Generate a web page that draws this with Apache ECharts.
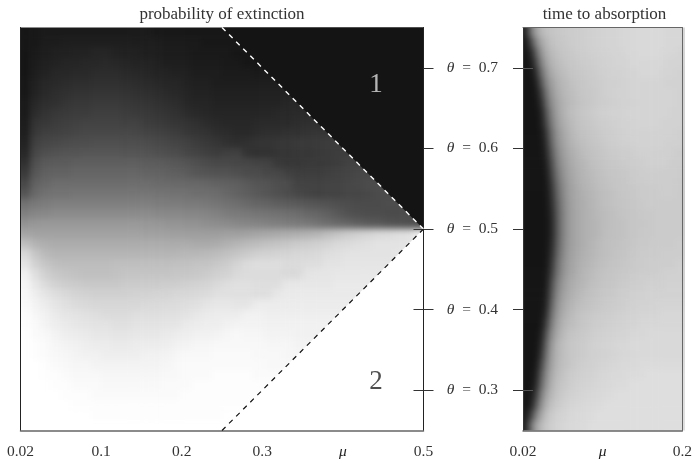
<!DOCTYPE html>
<html><head><meta charset="utf-8">
<style>html,body{margin:0;padding:0;background:#fff}#c{width:695px;height:463px}</style>
<script src="https://cdn.jsdelivr.net/npm/echarts@6/dist/echarts.min.js"></script></head>
<body><div id="c"></div>
<script>
// probability of extinction, percent, rows from theta=0.75 down to 0.25; each row stops at the dashed boundary
const extinctionUpper = [
[99,98,97,97,97,97,97,97,97,97,97,97,97,98,98,98,98,98,98,98],
[99,98,96,96,95,95,95,95,95,95,95,96,96,96,97,97,97,97,98,98,98],
[99,97,95,94,94,93,93,92,92,93,94,94,95,95,96,96,96,97,97,97,97,98],
[99,96,94,93,92,92,91,91,90,91,92,93,93,94,95,95,95,96,96,96,97,97,98],
[99,95,93,91,91,90,90,89,89,89,90,91,92,93,93,94,94,95,95,95,96,96,96,97],
[98,94,91,90,89,88,88,87,87,87,88,89,90,91,92,92,93,94,94,95,95,95,95,95,95],
[98,93,90,88,87,86,86,85,85,85,86,87,88,89,90,91,92,93,93,94,94,94,94,94,94,94],
[97,91,88,87,85,84,84,83,83,83,84,85,86,87,88,89,91,92,92,93,93,93,93,93,93,93,92],
[97,89,86,84,83,82,82,81,81,81,82,83,84,85,86,87,89,90,91,92,92,92,92,92,92,91,91,90],
[96,86,84,82,81,80,79,79,79,79,80,80,82,83,84,85,86,87,89,90,91,91,91,90,90,90,90,89,88],
[95,84,81,80,79,78,77,77,77,77,77,78,79,80,81,82,84,85,86,88,89,90,90,89,88,88,87,87,86,85],
[94,81,78,77,76,75,75,74,74,74,75,75,76,77,78,79,80,82,84,85,87,88,87,86,86,85,85,84,84,83,82],
[92,78,74,73,72,72,71,71,71,71,72,72,73,74,75,76,78,79,81,82,81,80,86,87,87,86,86,85,85,84,83,82],
[88,74,70,69,69,68,68,68,68,68,68,68,69,69,70,71,72,74,76,77,77,78,78,79,80,84,85,85,84,84,83,82,80],
[84,71,67,66,66,65,65,65,65,65,65,65,66,66,67,68,69,71,72,73,73,74,76,76,78,78,81,82,82,82,81,80,79,78],
[78,67,64,62,62,62,62,62,62,62,62,62,62,63,63,64,64,64,65,66,67,68,70,72,73,75,76,80,80,80,79,79,78,77,76],
[72,63,60,59,59,58,58,58,58,58,58,58,58,59,59,60,60,61,61,62,64,66,68,70,72,74,76,78,79,80,79,79,78,78,77,76],
[60,57,55,54,54,54,54,54,54,54,54,54,54,55,55,55,56,56,57,58,60,61,63,65,66,68,69,70,71,72,73,74,75,76,76,76,75],
[54,51,50,49,49,49,49,49,49,49,49,49,49,50,50,50,51,51,52,53,55,56,57,58,59,60,61,62,64,65,67,70,73,74,75,75,76,76],
[46,44,43,43,43,43,43,43,43,43,43,43,44,44,45,45,46,46,47,48,49,50,51,52,53,54,55,56,57,59,61,63,65,67,69,70,72,73,74,76]
];
const extinctionLower = [
[38,39,39,39,39,39,39,39,39,39,39,39,40,40,40,41,41,41,41,41,40,40,39,38,37,36,35,34,33,31,28,25,22,20,18,16,15,14,13,7],
[27,32,34,35,35,35,35,35,35,35,35,35,35,35,35,35,35,36,36,35,33,31,29,28,26,25,24,22,21,20,18,16,15,14,13,12,12,12,11],
[16,24,29,31,31,31,31,31,31,31,31,31,31,31,31,31,30,30,29,28,26,24,22,20,19,18,18,17,17,16,14,13,12,12,12,12,12,11],
[11,19,24,27,28,28,28,28,28,27,27,27,27,27,27,26,26,25,25,23,21,18,15,14,14,14,15,15,14,14,12,12,11,11,11,11,11],
[6,14,20,23,25,26,27,27,27,26,25,25,25,25,25,24,24,23,22,20,19,16,15,15,15,15,16,16,12,11,11,10,10,10,10,10],
[4,10,15,19,21,22,23,23,23,23,22,22,22,22,21,21,20,19,18,16,14,13,13,14,14,14,10,10,10,10,10,9,9,9,9],
[3,7,11,14,16,18,19,20,20,20,20,19,19,18,18,17,17,16,15,13,13,13,13,14,14,10,9,9,9,9,9,9,9,9],
[2,5,8,11,13,15,16,17,17,17,17,17,16,16,15,15,14,13,11,10,10,11,11,8,8,8,8,8,8,8,8,8,8],
[1,4,6,9,11,12,13,14,15,15,15,14,14,14,13,13,12,10,9,8,8,8,6,6,7,7,7,7,7,7,7,7],
[1,2,5,7,9,10,11,12,12,13,13,12,12,12,11,11,9,8,7,7,6,5,5,5,6,6,6,6,6,6,6],
[0,2,3,5,7,8,9,10,10,11,11,10,10,10,9,8,7,6,6,5,4,3,4,4,5,5,5,6,6,6],
[0,1,2,4,5,6,7,8,8,9,9,8,8,8,7,6,5,4,4,3,3,3,3,3,4,4,4,5,5],
[0,1,2,3,4,5,6,6,7,7,7,7,6,6,5,4,3,3,3,2,2,2,2,3,3,3,4,4],
[0,0,1,2,3,4,4,5,5,5,5,5,5,5,4,3,2,2,2,2,2,2,2,2,3,3,3],
[0,0,1,1,2,3,3,3,4,4,4,4,4,4,3,3,2,2,2,1,1,1,1,2,2,2],
[0,0,0,1,1,2,2,2,3,3,3,3,3,3,2,2,2,1,1,1,1,1,1,1,1],
[0,0,0,0,1,1,1,2,2,2,2,2,2,2,2,2,1,1,1,1,1,1,1,1],
[0,0,0,0,0,1,1,1,1,1,1,1,1,1,1,1,1,1,1,1,1,1,1],
[0,0,0,0,0,0,0,1,1,1,1,1,1,1,1,1,1,1,1,1,0,0],
[0,0,0,0,0,0,0,0,0,0,0,0,0,0,0,0,0,0,0,0,0]
];
// time to absorption, relative shade, rows from theta=0.75 down to 0.25
const absorption = [
[4,38,58,68,72,74,75,76,77,77,78,78,79,79,80,80,81,81,81,82,82,82,83,83,83,83,83,83,82,82,82,82],
[0,18,45,60,68,72,74,75,76,77,78,78,79,79,80,80,81,81,81,82,82,82,83,83,83,83,83,83,82,82,82,82],
[0,6,30,52,64,69,72,74,75,76,77,78,78,79,79,80,80,81,81,81,82,82,82,83,83,83,83,82,82,82,81,81],
[0,2,18,44,58,66,70,72,74,75,76,77,78,78,79,79,80,80,81,81,81,82,82,82,82,82,82,82,81,81,81,81],
[0,0,8,34,52,62,67,70,72,74,75,76,77,77,78,79,79,80,80,80,81,81,81,82,82,82,82,81,81,81,80,80],
[0,0,3,24,46,57,63,68,70,72,74,75,76,77,77,78,79,79,79,80,80,81,81,81,81,81,81,81,80,80,80,80],
[0,0,1,14,38,53,61,66,69,71,73,75,76,76,77,78,79,79,80,80,80,81,81,81,81,81,81,81,81,81,80,80],
[0,0,0,8,31,49,58,64,68,70,72,74,75,76,77,78,78,79,79,80,80,80,81,81,81,81,81,81,81,81,80,80],
[0,0,0,3,24,44,56,63,68,71,73,75,76,77,78,79,79,80,80,80,81,81,81,81,81,81,81,81,81,80,80,80],
[0,0,0,2,19,40,53,61,66,69,72,74,75,76,77,78,78,79,79,80,80,80,81,81,81,81,81,80,80,80,80,80],
[0,0,0,1,12,34,50,58,64,68,71,73,74,75,76,77,78,78,79,79,80,80,80,80,80,80,80,80,80,80,79,79],
[0,0,0,0,8,30,47,56,62,66,69,71,73,74,75,76,77,78,78,79,79,79,80,80,80,80,80,80,79,79,79,79],
[0,0,0,0,5,25,43,54,60,64,67,70,72,73,74,75,76,77,77,78,78,78,79,79,79,79,79,79,79,79,78,78],
[0,0,0,0,2,20,39,51,58,62,66,68,70,72,73,74,75,76,76,77,77,78,78,78,79,79,79,79,79,78,78,78],
[0,0,0,0,1,15,35,48,56,61,64,67,69,70,72,73,74,75,75,76,76,77,77,78,78,78,78,78,78,78,78,77],
[0,0,0,0,0,11,31,45,54,60,63,66,68,69,71,72,73,74,75,75,76,76,77,77,77,78,78,78,78,78,77,77],
[0,0,0,0,0,9,28,43,53,59,62,65,67,68,70,71,72,73,74,75,75,76,76,77,77,77,77,78,78,78,77,77],
[0,0,0,0,0,7,25,41,52,58,62,64,66,68,69,71,72,73,74,74,75,75,76,76,77,77,77,77,77,77,77,77],
[0,0,0,0,0,5,23,40,51,58,61,64,66,67,69,70,71,72,73,74,74,75,75,76,76,76,77,77,77,77,77,77],
[0,0,0,0,0,4,22,40,51,58,61,64,66,67,68,70,71,72,73,73,74,75,75,75,76,76,77,77,77,77,77,77],
[0,0,0,0,0,4,22,40,51,58,61,64,66,67,68,70,72,72,73,73,74,75,75,76,76,76,77,77,77,77,77,77],
[0,0,0,0,0,5,24,41,52,58,61,64,66,68,69,71,72,73,73,74,74,75,76,76,76,77,77,77,77,77,78,78],
[0,0,0,0,0,7,27,43,53,59,62,65,67,68,70,71,72,73,74,74,75,76,76,77,77,77,77,78,78,78,78,78],
[0,0,0,0,0,10,31,46,55,60,63,66,68,69,71,72,73,74,74,75,76,76,77,77,77,78,78,78,78,78,79,79],
[0,0,0,0,1,13,35,48,57,61,64,67,69,70,72,73,74,74,75,76,76,77,77,78,78,78,78,79,79,79,79,79],
[0,0,0,0,1,19,40,52,59,63,66,68,70,72,73,74,75,75,76,77,77,78,78,78,79,79,79,79,80,80,80,80],
[0,0,0,0,2,23,44,55,61,65,68,70,72,73,74,75,76,76,77,78,78,79,79,79,80,80,80,80,80,80,80,80],
[0,0,0,0,4,28,48,58,64,67,70,72,73,74,75,76,77,77,78,78,79,79,80,80,80,80,81,81,81,81,81,81],
[0,0,0,0,8,34,52,61,66,69,72,74,75,76,77,77,78,78,79,79,80,80,80,81,81,81,81,82,82,82,82,82],
[0,0,0,1,15,41,56,64,69,71,73,75,76,77,78,78,79,79,80,80,81,81,81,82,82,82,82,82,82,82,82,82],
[0,0,0,3,24,48,60,67,71,74,75,76,77,78,79,79,80,80,81,81,81,82,82,82,82,83,83,83,83,83,83,83],
[0,0,0,6,31,53,64,70,73,75,76,77,78,79,80,80,81,81,82,82,82,83,83,83,83,83,83,83,83,83,83,83],
[0,0,0,11,36,56,65,70,73,75,76,77,78,79,79,80,80,81,81,82,82,82,83,83,83,83,83,83,83,83,83,83],
[0,0,1,18,42,58,66,71,73,75,77,78,79,79,80,81,81,82,82,83,83,83,83,84,84,84,84,84,84,84,84,84],
[0,0,3,26,48,61,69,72,75,77,78,79,80,80,81,82,82,83,83,83,84,84,84,84,85,85,85,85,85,85,85,85],
[0,0,6,33,52,64,71,74,76,78,79,80,81,81,82,82,83,83,84,84,84,85,85,85,85,85,85,85,85,85,85,85],
[0,1,14,42,59,68,73,76,78,79,80,81,82,82,83,83,84,84,85,85,85,85,85,85,85,85,85,85,85,85,85,85],
[0,3,25,50,65,72,76,78,80,81,82,82,83,83,84,84,85,85,85,85,85,85,85,85,85,85,85,85,85,85,85,85],
[1,15,42,60,71,76,79,80,81,82,83,83,84,84,85,85,85,85,85,85,85,85,85,85,85,85,85,85,85,85,85,85],
[3,35,58,69,75,78,80,81,82,83,83,84,84,85,85,85,85,85,85,85,85,85,85,85,85,85,85,85,85,85,85,85]
];
const muTicks = [0, 0.1, 0.2, 0.3, 0.4, 0.5];
const muTickLabels = ['0.02', '0.1', '0.2', '0.3', '{m|μ}', '0.5'];
const muTicksRight = [0.02, 0.11, 0.2];
const muLabelsRight = ['0.02', '{m|μ}', '0.2'];
const thetaTicks = [0.3, 0.4, 0.5, 0.6, 0.7];
const thetaLabels = ['0.3', '0.4', '0.5', '0.6', '0.7'];
const innerTicksLeft = [0.3, 0.4, 0.5];
const innerTicksRight = [0.3, 0.7];
const regionOneVertices = [[0.25, 0.75, 0.5, 0.75, 0.5, 0.5]];
const regionTwoVertices = [[0.25, 0.25, 0.5, 0.25, 0.5, 0.5]];
const lowerDiagonal = [[0.25, 0.25], [0.5, 0.5]];
const upperDiagonal = [[0.25, 0.75], [0.5, 0.5]];
const regionMarks = [[0.441, 0.679, '1', '#dddddd'], [0.441, 0.31, '2', '#222222']];

const FONT = '"Liberation Serif", serif';
const clamp = (i, n) => Math.max(0, Math.min(n - 1, i));
// one repeated cell is laid around each field so the soft rendering does not fade at the frame
function cells(rows, cols) {
  const out = [];
  for (let r = -1; r <= rows.length; r++) {
    const row = rows[clamp(r, rows.length)];
    for (let c = -1; c <= cols; c++) out.push([c + 1, r + 1, row[clamp(c, row.length)]]);
  }
  return out;
}
const leftCells = cells(extinctionUpper.concat(extinctionLower), 40);
const rightCells = cells(absorption, 32);
const idx = n => Array.from({ length: n }, (_, i) => String(i));
const rich = { m: { fontFamily: FONT, fontStyle: 'italic', fontSize: 15.5, color: '#222' } };
const G1 = { left: 20.5, top: 27.5, width: 403, height: 403 };
const G2 = { left: 523, top: 27.5, width: 162, height: 403 };
const ch = 403 / 40, cw2 = 162 / 32;
const H1 = { left: 20.5 - ch, top: 27.5 - ch, width: 403 + 2 * ch, height: 403 + 2 * ch };
const H2 = { left: 523 - cw2, top: 27.5 - ch, width: 162 + 2 * cw2, height: 403 + 2 * ch };
const noGrid = { splitLine: { show: false } };
const frame = (color, width) => ({ show: true, onZero: false, lineStyle: { color, width } });
const mkY = (gridIndex, position, o) => Object.assign({ type: 'value', gridIndex, position, zlevel: 1, z: 4, min: 0.25, max: 0.75, ...noGrid, axisLine: { show: false, onZero: false }, axisLabel: { show: false }, axisTick: { show: false } }, o);
const blankX = gridIndex => ({ type: 'value', gridIndex, show: false, min: 0, max: 1, ...noGrid });
const triangle = fill => (params, api) => ({
  type: 'polygon',
  shape: { points: [0, 2, 4].map(i => api.coord([api.value(i), api.value(i + 1)])) },
  style: { fill }
});
const titleStyle = { fontFamily: FONT, fontWeight: 'normal', fontSize: 17, color: '#333' };

const chart = echarts.init(document.getElementById('c'));
chart.setOption({
  animation: false,
  title: [
    { text: 'probability of extinction', left: 217, top: 1, zlevel: 1, textAlign: 'center', textStyle: titleStyle },
    { text: 'time to absorption', left: 599.5, top: 1, zlevel: 1, textAlign: 'center', textStyle: titleStyle }
  ],
  grid: [G1, G2, H1, H2, G1, G2],
  visualMap: [
    { show: false, type: 'continuous', seriesIndex: 0, dimension: 2, min: 0, max: 99, inRange: { color: ['#ffffff', '#141414'] } },
    { show: false, type: 'continuous', seriesIndex: 1, dimension: 2, min: 0, max: 99, inRange: { color: ['#141414', '#ffffff'] } }
  ],
  xAxis: [
    { type: 'category', gridIndex: 2, data: idx(42), show: false },
    { type: 'value', gridIndex: 0, position: 'bottom', zlevel: 1, z: 4, min: 0, max: 0.5, ...noGrid,
      axisLine: frame('#666', 1.5), axisTick: { show: false },
      axisLabel: { customValues: muTicks, margin: 13, fontFamily: FONT, fontSize: 15.5, color: '#333', rich, formatter: v => muTickLabels[muTicks.indexOf(v)] } },
    { type: 'category', gridIndex: 3, data: idx(34), show: false },
    { type: 'value', gridIndex: 1, position: 'bottom', zlevel: 1, z: 4, min: 0.02, max: 0.2, ...noGrid,
      axisLine: frame('#666', 1.5), axisTick: { show: false },
      axisLabel: { customValues: muTicksRight, margin: 13, fontFamily: FONT, fontSize: 15.5, color: '#333', rich, formatter: v => muLabelsRight[muTicksRight.indexOf(v)] } },
    { type: 'value', gridIndex: 1, position: 'top', zlevel: 1, z: 4, min: 0.02, max: 0.2, ...noGrid, axisLine: frame('#666', 1), axisTick: { show: false }, axisLabel: { show: false } },
    blankX(4),
    blankX(5)
  ],
  yAxis: [
    { type: 'category', gridIndex: 2, data: idx(42), inverse: true, show: false },
    mkY(0, 'right', { axisLine: frame('#222', 1),
      axisTick: { show: true, length: 10, customValues: thetaTicks, lineStyle: { color: '#333' } } }),
    mkY(0, 'left', { axisLine: frame('#222', 1) }),
    mkY(4, 'right', {
      axisTick: { show: true, inside: true, length: 10, customValues: innerTicksLeft, lineStyle: { color: '#333' } } }),
    { type: 'category', gridIndex: 3, data: idx(42), inverse: true, show: false },
    mkY(1, 'left', { axisLine: frame('#333', 1),
      axisTick: { show: true, length: 10, customValues: thetaTicks, lineStyle: { color: '#333' } },
      axisLabel: { show: true, customValues: thetaTicks, margin: 25, fontFamily: FONT, fontSize: 15.5, color: '#333',
        rich: { m: { fontFamily: FONT, fontStyle: 'italic', fontSize: 15.5, color: '#333' } },
        formatter: v => '{m|θ}  =  ' + thetaLabels[thetaTicks.indexOf(v)] } }),
    mkY(1, 'right', { axisLine: frame('#666', 1) }),
    mkY(5, 'left', {
      axisTick: { show: true, inside: true, length: 10, customValues: innerTicksRight, lineStyle: { color: '#555' } } })
  ],
  series: [
    { type: 'heatmap', xAxisIndex: 0, yAxisIndex: 0, data: leftCells, progressive: 0, emphasis: { disabled: true }, silent: true },
    { type: 'heatmap', xAxisIndex: 2, yAxisIndex: 4, data: rightCells, progressive: 0, emphasis: { disabled: true }, silent: true },
    { type: 'custom', zlevel: 1, z: 3, xAxisIndex: 1, yAxisIndex: 1, silent: true, clip: false, data: regionOneVertices, encode: { x: [0, 2, 4], y: [1, 3, 5] }, renderItem: triangle('#141414') },
    { type: 'custom', zlevel: 1, z: 3, xAxisIndex: 1, yAxisIndex: 1, silent: true, clip: false, data: regionTwoVertices, encode: { x: [0, 2, 4], y: [1, 3, 5] }, renderItem: triangle('#ffffff') },
    { type: 'line', zlevel: 1, xAxisIndex: 1, yAxisIndex: 1, data: upperDiagonal, symbol: 'none', z: 5, lineStyle: { color: '#fff', width: 1.4, type: [5, 5] } },
    { type: 'line', zlevel: 1, xAxisIndex: 1, yAxisIndex: 1, data: lowerDiagonal, symbol: 'none', z: 5, lineStyle: { color: '#111', width: 1.2, type: [5, 5] } },
    { type: 'scatter', zlevel: 1, xAxisIndex: 1, yAxisIndex: 1, symbolSize: 0, z: 6, silent: true,
      data: regionMarks.map(m => ({ value: [m[0], m[1]], name: m[2],
        label: { show: true, position: 'inside', formatter: m[2], fontFamily: FONT, fontSize: 27, color: m[3] } })) }
  ]
});
// soft rendering of the cell layer, trimmed to the two frames
const layer = document.querySelector('#c canvas[data-zr-dom-id="zr_0"]');
if (layer) {
  layer.style.filter = 'blur(3px)';
  layer.style.clipPath = 'path("M20.5 27.5H423.5V430.5H20.5Z M523 27.5H685V430.5H523Z")';
}
</script></body></html>
